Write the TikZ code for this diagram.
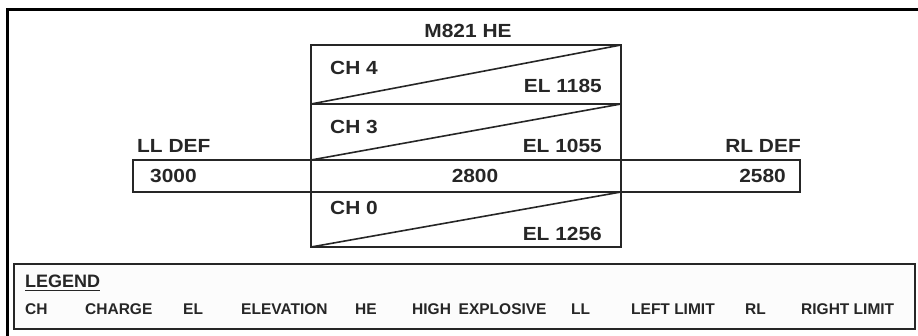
\documentclass[tikz,border=0pt]{standalone}
\usepackage{fontspec}
\usetikzlibrary{calc}
\setmainfont{Liberation Sans}
\newfontfamily\mainf{Liberation Sans}[FakeStretch=1.1]
\definecolor{ink}{HTML}{262626}
\begin{document}
\begin{tikzpicture}[x=1pt,y=-1pt,
  lbl/.style={inner sep=0pt,text=ink,font=\mainf\fontsize{19}{19}\selectfont\bfseries},
  leg/.style={inner sep=0pt,text=ink,anchor=west,font=\fontsize{15.5}{15.5}\selectfont\bfseries},
  frame/.style={draw=ink,line width=2pt}]
\useasboundingbox (0,0) rectangle (918,335);
% outer frame (right and bottom edges outside the picture)
\draw[draw=black,line width=3pt] (7,9) rectangle (940,360);
% coordinates
\coordinate (cTL) at (311,45);
\coordinate (cTR) at (621,45);
\coordinate (d1L) at (311,104);
\coordinate (d1R) at (621,104);
\coordinate (bTL) at (133,160);
\coordinate (bTR) at (800,160);
\coordinate (bBL) at (133,192);
\coordinate (bBR) at (800,192);
\coordinate (cBL) at (311,247);
\coordinate (cBR) at (621,247);
\coordinate (b1L) at (311,160);
\coordinate (b1R) at (621,160);
\coordinate (b2L) at (311,192);
\coordinate (b2R) at (621,192);
% column boxes
\draw[frame] (cTL) rectangle (d1R);
\draw[frame] (d1L) rectangle (b1R);
\draw[frame] (b2L) rectangle (cBR);
\draw[frame] (bTL) rectangle (bBR);
\draw[frame] (b1L) -- (b2L);
\draw[frame] (b1R) -- (b2R);
% diagonals
\draw[ink,line width=1.6pt] (d1L) -- (cTR);
\draw[ink,line width=1.6pt] (b1L) -- (d1R);
\draw[ink,line width=1.6pt] (cBL) -- (b2R);
% texts
\node[lbl] (title) at (468,31) {M821 HE};
\node[lbl,anchor=west] (ch4) at (330,68) {CH 4};
\node[lbl,anchor=east] (el4) at (602,86) {EL 1185};
\node[lbl,anchor=west] (ch3) at (330,127) {CH 3};
\node[lbl,anchor=east] (el3) at (602,146) {EL 1055};
\node[lbl,anchor=west] (lldef) at (137,146) {LL DEF};
\node[lbl,anchor=east] (rldef) at (801,146) {RL DEF};
\node[lbl,anchor=west] (v3000) at (150,176) {3000};
\node[lbl] (v2800) at (475,176) {2800};
\node[lbl,anchor=east] (v2580) at (786,176) {2580};
\node[lbl,anchor=west] (ch0) at (330,208) {CH 0};
\node[lbl,anchor=east] (el0) at (602,234) {EL 1256};
% legend
\draw[draw=ink,line width=2.2pt,fill=black!1] (14,264) rectangle (915,329);
\node[inner sep=0pt,text=ink,anchor=west,font=\fontsize{18}{18}\selectfont\bfseries] (legend) at (25,281) {LEGEND};
\coordinate (ulA) at ($(legend.south west)+(0,3)$);
\coordinate (ulB) at ($(legend.south east)+(0,3)$);
\draw[ink,line width=1.3pt] (ulA) -- (ulB);
\node[leg] (k1) at (25,309) {CH};
\node[leg] (v1) at (85,309) {CHARGE};
\node[leg] (k2) at (183,309) {EL};
\node[leg] (v2) at (241,309) {ELEVATION};
\node[leg] (k3) at (355,309) {HE};
\node[leg] (v3) at (412,309) {HIGH\hspace{0.5em}EXPLOSIVE};
\node[leg] (k4) at (571,309) {LL};
\node[leg] (v4) at (631,309) {LEFT LIMIT};
\node[leg] (k5) at (745,309) {RL};
\node[leg] (v5) at (801,309) {RIGHT LIMIT};
\end{tikzpicture}
\end{document}
